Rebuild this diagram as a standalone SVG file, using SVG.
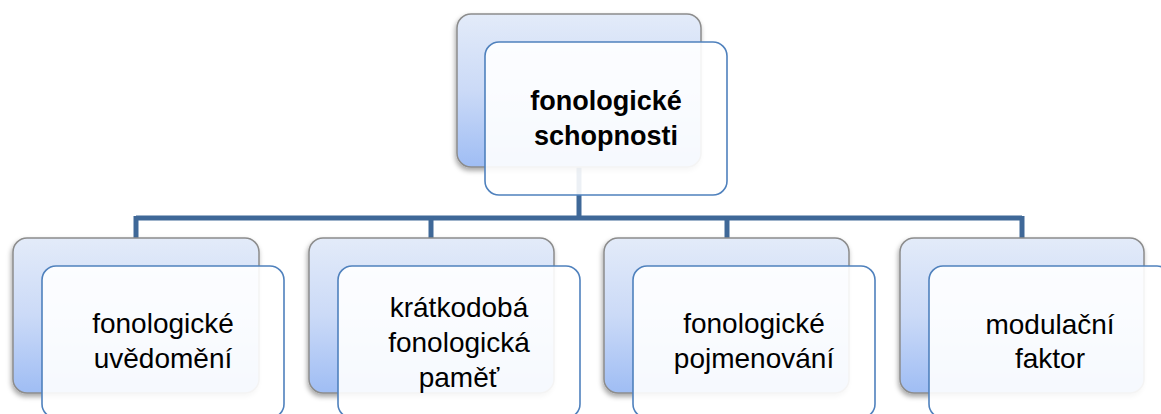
<svg xmlns="http://www.w3.org/2000/svg" width="1161" height="414" viewBox="0 0 1161 414">
  <defs>
    <linearGradient id="backGrad" x1="0" y1="0" x2="0" y2="1">
      <stop offset="0" stop-color="#e3ebf9"/>
      <stop offset="0.5" stop-color="#cbdaf7"/>
      <stop offset="1" stop-color="#9fbdf4"/>
    </linearGradient>
    <filter id="shadow" x="-10%" y="-10%" width="125%" height="125%">
      <feDropShadow dx="-1" dy="3" stdDeviation="2.5" flood-color="#000" flood-opacity="0.35"/>
    </filter>
    <style>
      .back { fill: url(#backGrad); stroke: #8c8c8c; stroke-width: 1.5; filter: url(#shadow); }
      .front { fill: #ffffff; fill-opacity: 0.9; stroke: #4f81bd; stroke-width: 1.6; }
      .conn { fill: none; stroke: #3f6898; stroke-width: 5; }
      .lbl { font-family: "Liberation Sans", Arial, sans-serif; font-size: 28px; fill: #000; text-anchor: middle; }
      .top { font-weight: bold; font-size: 27px; }
    </style>
  </defs>

  <g id="connectors">
    <path class="conn" d="M579 167 V218"/>
    <path class="conn" d="M136 218 H1022"/>
    <path class="conn" d="M136 216 V240"/>
    <path class="conn" d="M431 216 V240"/>
    <path class="conn" d="M727 216 V240"/>
    <path class="conn" d="M1022 216 V240"/>
  </g>

  <g id="node-root">
    <rect class="back" x="457" y="14" width="244" height="153" rx="14"/>
    <rect class="front" x="485" y="42" width="242" height="153" rx="14"/>
    <text class="lbl top" x="606" y="110">fonologické</text>
    <text class="lbl top" x="606" y="145">schopnosti</text>
  </g>

  <g id="node-uvedomeni">
    <rect class="back" x="13" y="238" width="246" height="155" rx="14"/>
    <rect class="front" x="42" y="266" width="242" height="152" rx="14"/>
    <text class="lbl" x="163" y="333">fonologické</text>
    <text class="lbl" x="163" y="368">uvědomění</text>
  </g>

  <g id="node-pamet">
    <rect class="back" x="309" y="238" width="245" height="155" rx="14"/>
    <rect class="front" x="338" y="266" width="242" height="152" rx="14"/>
    <text class="lbl" x="459" y="317">krátkodobá</text>
    <text class="lbl" x="459" y="352">fonologická</text>
    <text class="lbl" x="459" y="387">paměť</text>
  </g>

  <g id="node-pojmenovani">
    <rect class="back" x="604" y="238" width="245" height="155" rx="14"/>
    <rect class="front" x="633" y="266" width="242" height="152" rx="14"/>
    <text class="lbl" x="754" y="333">fonologické</text>
    <text class="lbl" x="754" y="368">pojmenování</text>
  </g>

  <g id="node-modulacni">
    <rect class="back" x="900" y="238" width="244" height="155" rx="14"/>
    <rect class="front" x="929" y="266" width="242" height="152" rx="14"/>
    <text class="lbl" x="1050" y="334">modulační</text>
    <text class="lbl" x="1050" y="368">faktor</text>
  </g>
</svg>
